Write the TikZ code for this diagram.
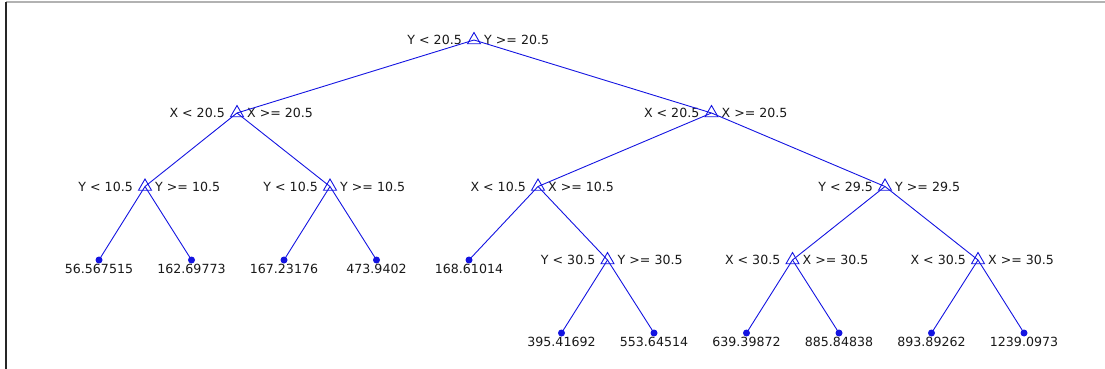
\documentclass[tikz,border=0pt]{standalone}
\usepackage{fontspec}
\setmainfont{DejaVu Sans}
\usetikzlibrary{shapes.geometric}
\definecolor{treeblue}{RGB}{20,20,225}
\definecolor{txt}{RGB}{25,25,25}
\tikzset{
  tri/.style={regular polygon, regular polygon sides=3, draw=treeblue, line width=0.9pt, minimum size=15pt, inner sep=0pt},
  dot/.style={circle, fill=treeblue, inner sep=0pt, minimum size=7pt},
  lt/.style={inner sep=0pt, text=txt, font=\fontsize{12.6}{14}\selectfont},
  edge/.style={draw=treeblue, line width=0.9pt},
}
\newcommand{\brnode}[4]{%
  \node[tri] (#1) at #2 {};
  \node[lt, anchor=east] (#1L) at ([xshift=-12pt]#1.center) {#3};
  \node[lt, anchor=west] (#1R) at ([xshift=10pt]#1.center) {#4};}
\newcommand{\lfnode}[3]{%
  \node[dot] (#1) at #2 {};
  \node[lt, anchor=north] (#1T) at ([yshift=-3.5pt]#1.center) {#3};}
\begin{document}
\begin{tikzpicture}[x=1pt, y=-1pt]
\useasboundingbox (0,0) rectangle (1105,369);
\draw[black!30, line width=1.2pt] (6,2) -- (1105,2);
\draw[black!85, line width=1.4pt] (6,2) -- (6,369);
% nodes
\brnode{r}{(474,40)}{Y < 20.5}{Y >= 20.5}
\brnode{a}{(237,113)}{X < 20.5}{X >= 20.5}
\brnode{b}{(711.5,113)}{X < 20.5}{X >= 20.5}
\brnode{aa}{(145,186.5)}{Y < 10.5}{Y >= 10.5}
\brnode{ab}{(330,186.5)}{Y < 10.5}{Y >= 10.5}
\brnode{ba}{(538,186.5)}{X < 10.5}{X >= 10.5}
\brnode{bb}{(885,186.5)}{Y < 29.5}{Y >= 29.5}
\brnode{c}{(607.5,260)}{Y < 30.5}{Y >= 30.5}
\brnode{d}{(792.5,260)}{X < 30.5}{X >= 30.5}
\brnode{e}{(978,260)}{X < 30.5}{X >= 30.5}
\lfnode{l1}{(99,260)}{56.567515}
\lfnode{l2}{(191.5,260)}{162.69773}
\lfnode{l3}{(284,260)}{167.23176}
\lfnode{l4}{(376.5,260)}{473.9402}
\lfnode{l5}{(469,260)}{168.61014}
\lfnode{l6}{(561.5,333)}{395.41692}
\lfnode{l7}{(654,333)}{553.64514}
\lfnode{l8}{(746.5,333)}{639.39872}
\lfnode{l9}{(839,333)}{885.84838}
\lfnode{l10}{(931.5,333)}{893.89262}
\lfnode{l11}{(1024,333)}{1239.0973}
% edges
\path[edge] (r.center) -- (a.center);
\path[edge] (r.center) -- (b.center);
\path[edge] (a.center) -- (aa.center);
\path[edge] (a.center) -- (ab.center);
\path[edge] (b.center) -- (ba.center);
\path[edge] (b.center) -- (bb.center);
\path[edge] (aa.center) -- (l1.center);
\path[edge] (aa.center) -- (l2.center);
\path[edge] (ab.center) -- (l3.center);
\path[edge] (ab.center) -- (l4.center);
\path[edge] (ba.center) -- (l5.center);
\path[edge] (ba.center) -- (c.center);
\path[edge] (bb.center) -- (d.center);
\path[edge] (bb.center) -- (e.center);
\path[edge] (c.center) -- (l6.center);
\path[edge] (c.center) -- (l7.center);
\path[edge] (d.center) -- (l8.center);
\path[edge] (d.center) -- (l9.center);
\path[edge] (e.center) -- (l10.center);
\path[edge] (e.center) -- (l11.center);
\end{tikzpicture}
\end{document}
